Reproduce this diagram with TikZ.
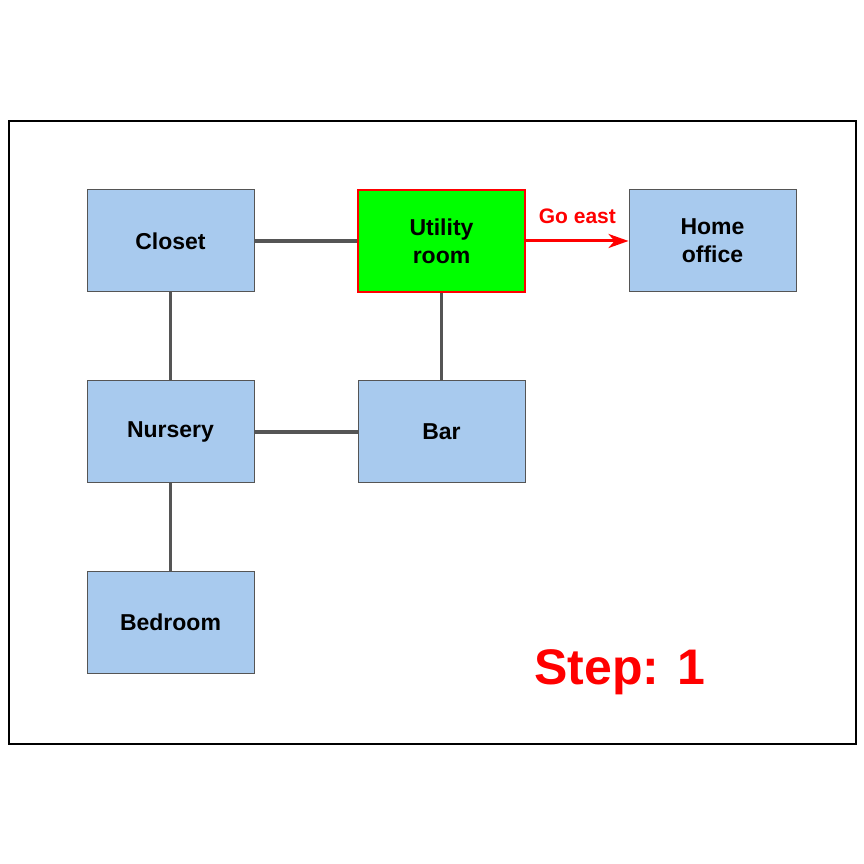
\documentclass[tikz,border=0pt]{standalone}
\usepackage{fontspec}
\setmainfont{Liberation Sans}
\usetikzlibrary{arrows.meta}
\definecolor{roomblue}{HTML}{A8CAEE}
\definecolor{linegray}{HTML}{555555}
\begin{document}
\begin{tikzpicture}[x=1pt,y=1pt,
  room/.style={rectangle, draw=linegray, line width=1pt, fill=roomblue, minimum width=167pt, minimum height=102pt, inner sep=0pt, align=center, font=\bfseries\fontsize{23}{28}\selectfont},
  door/.style={draw=linegray, line width=3.5pt},
  current/.style={room, fill=green, draw=red, line width=2.5pt}]
\useasboundingbox (0,0) rectangle (864,864);
\draw[line width=2pt] (9,120) rectangle (856,743);
\node[room] (closet) at (170.5,623){Closet};
\node[current] (utility) at (441.5,623){Utility\\room};
\node[room] (office) at (712.5,623){Home\\office};
\node[room] (nursery) at (170.5,432){Nursery};
\node[room] (bar) at (441.5,432){Bar};
\node[room] (bedroom) at (170.5,241.5){Bedroom};
\draw[door](closet) -- (utility);
\draw[door](closet) -- (nursery);
\draw[door](utility) -- (bar);
\draw[door](nursery) -- (bar);
\draw[door](nursery) -- (bedroom);
\draw[red, line width=3pt, -{Stealth[length=20pt,width=14pt,inset=6pt]}](utility) -- node[above=12pt, font=\bfseries\fontsize{21}{24}\selectfont]{Go east} (office);
\node[red, font=\bfseries\fontsize{50}{60}\selectfont] (step) at (620,192){Step: 1};
\end{tikzpicture}
\end{document}
